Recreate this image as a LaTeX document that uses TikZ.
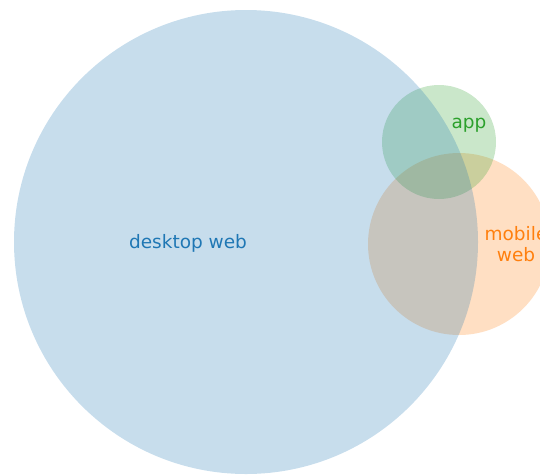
\documentclass[tikz,border=0pt]{standalone}
\usepackage{fontspec}
\setmainfont{DejaVu Sans}
\usepackage{tikz}

\definecolor{tabblue}{HTML}{1F77B4}
\definecolor{taborange}{HTML}{FF7F0E}
\definecolor{tabgreen}{HTML}{2CA02C}

\tikzset{
    setcircle/.style={circle,inner sep=0pt,fill=#1,fill opacity=0.25},
    setlabel/.style={text=#1,font=\fontsize{18.5}{21}\selectfont,align=center}
}

\begin{document}
\begin{tikzpicture}[x=1pt,y=-1pt]
        % Frame
        \useasboundingbox (0,0) rectangle (540,474);
        \clip (0,0) rectangle (540,474);

        % Set circles
        \node [setcircle=taborange,minimum size=182pt] (mobile) at (459,244) {};
        \node [setcircle=tabgreen,minimum size=114pt] (app) at (439,142) {};
        \node [setcircle=tabblue,minimum size=464pt] (desktop) at (246,242) {};

        % Set labels
        \node [setlabel=tabblue] (desktoplabel) at (188,243) {desktop web};
        \node [setlabel=tabgreen] (applabel) at (469,125) {app};
        \node [setlabel=taborange] (mobilelabel) at (516,244) {mobile\\web};
    \end{tikzpicture}
\end{document}
